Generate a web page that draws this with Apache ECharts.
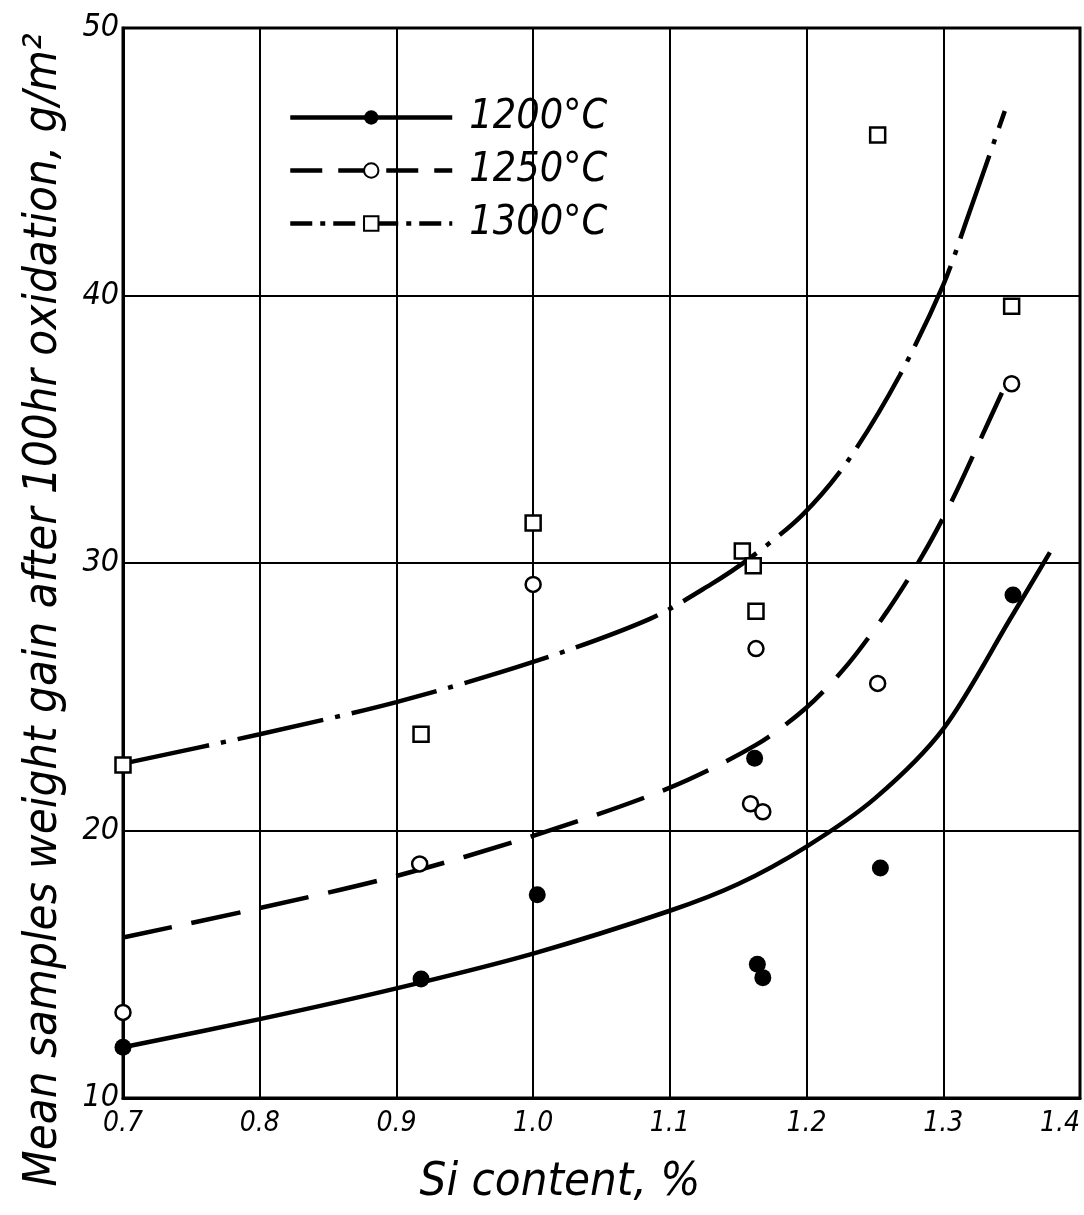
<!DOCTYPE html>
<html>
<head>
<meta charset="utf-8">
<script src="https://cdn.jsdelivr.net/npm/echarts@6/dist/echarts.min.js"></script>
<style>
  html, body { margin: 0; padding: 0; background: #fff; }
  #chart { width: 1084px; height: 1215px; }
</style>
</head>
<body>
<div id="chart"></div>
<script>
// measured points (Si %, g/m2)
var pts1200 = [[0.70, 11.9], [0.918, 14.45], [1.003, 17.6], [1.162, 22.7], [1.164, 15.0], [1.168, 14.5], [1.254, 18.6], [1.351, 28.8]];
var pts1250 = [[0.70, 13.2], [0.917, 18.75], [1.0, 29.2], [1.163, 26.8], [1.159, 21.0], [1.168, 20.7], [1.252, 25.5], [1.350, 36.7]];
var pts1300 = [[0.70, 22.45], [0.918, 23.6], [1.0, 31.5], [1.153, 30.45], [1.161, 29.9], [1.163, 28.2], [1.252, 46.0], [1.350, 39.6]];

// fitted curves
var curve1200 = [[0.70, 11.9], [0.80, 12.95], [0.90, 14.1], [1.00, 15.4], [1.10, 17.0], [1.15, 18.0], [1.20, 19.4], [1.25, 21.2], [1.30, 23.8], [1.35, 28.0], [1.378, 30.4]];
var curve1250 = [[0.70, 16.0], [0.80, 17.1], [0.90, 18.3], [1.00, 19.8], [1.10, 21.6], [1.163, 23.2], [1.20, 24.6], [1.23, 26.2], [1.259, 28.2], [1.285, 30.3], [1.307, 32.4], [1.327, 34.6], [1.345, 36.6]];
var curve1300 = [[0.70, 22.5], [0.80, 23.6], [0.90, 24.8], [1.00, 26.3], [1.085, 27.9], [1.13, 29.2], [1.159, 30.2], [1.197, 31.8], [1.23, 33.8], [1.268, 37.0], [1.30, 40.4], [1.317, 42.8], [1.345, 46.9]];

var legendNames = ['1200°C', '1250°C', '1300°C'];

var font = '"DejaVu Sans Condensed", "Liberation Sans Narrow", "DejaVu Sans", sans-serif';
var myChart = echarts.init(document.getElementById('chart'), null, { renderer: 'canvas' });

var openSym = { color: '#fff', borderColor: '#000', borderWidth: 2.5, opacity: 1 };
var dash1250 = [50, 20];
var dash1300 = [88, 12, 5, 12];

option = {
    backgroundColor: '#fff',
    animation: false,
    grid: {
        left: 123, top: 28, width: 957, height: 1070,
        outerBoundsMode: 'none', containLabel: false,
        show: true, borderColor: '#000', borderWidth: 3
    },
    legend: {
        orient: 'vertical',
        left: 283, top: 92,
        itemWidth: 162, itemHeight: 18, itemGap: 12,
        lineStyle: { width: 4.5, color: '#000' },
        data: [
            { name: legendNames[0] },
            { name: legendNames[1], lineStyle: { type: [32, 16] } },
            { name: legendNames[2], lineStyle: { type: [22, 8, 5, 8] } }
        ],
        textStyle: { fontFamily: font, fontStyle: 'italic', fontSize: 41, color: '#000', padding: [0, 0, 0, 12] }
    },
    xAxis: {
        type: 'value', min: 0.7, max: 1.4, interval: 0.1,
        axisLine: { show: true, lineStyle: { color: '#000', width: 3 } },
        axisTick: { show: false },
        splitLine: { show: true, lineStyle: { color: '#000', width: 2 } },
        axisLabel: {
            color: '#000', fontFamily: font, fontStyle: 'italic', fontSize: 28, margin: 12,
            alignMaxLabel: 'right',
            formatter: function (v) { return v.toFixed(1); }
        }
    },
    yAxis: {
        type: 'value', min: 10, max: 50, interval: 10,
        axisLine: { show: true, lineStyle: { color: '#000', width: 3 } },
        axisTick: { show: false },
        splitLine: { show: true, lineStyle: { color: '#000', width: 2 } },
        axisLabel: { color: '#000', fontFamily: font, fontStyle: 'italic', fontSize: 32, margin: 4 }
    },
    graphic: [{
        type: 'text', x: 44, y: 610, rotation: Math.PI / 2,
        style: {
            text: 'Mean samples weight gain after 100hr oxidation, g/m²',
            fontFamily: font, fontStyle: 'italic', fontSize: 47, fill: '#000',
            align: 'center', verticalAlign: 'middle'
        }
    }, {
        type: 'text', x: 560, y: 1183,
        style: {
            text: 'Si content, %', fontFamily: font, fontStyle: 'italic', fontSize: 47, fill: '#000',
            align: 'center', verticalAlign: 'middle'
        }
    }],
    series: [{
        name: legendNames[0], type: 'line', data: curve1200, smooth: 0.3,
        showSymbol: false, symbol: 'circle', symbolSize: 16,
        itemStyle: { color: '#000', opacity: 1 },
        lineStyle: { color: '#000', width: 4.5 }, z: 3
    }, {
        name: legendNames[1], type: 'line', data: curve1250, smooth: 0.3,
        showSymbol: false, symbol: 'circle', symbolSize: 15,
        itemStyle: openSym,
        lineStyle: { color: '#000', width: 4.5, type: dash1250 }, z: 3
    }, {
        name: legendNames[2], type: 'line', data: curve1300, smooth: 0.3,
        showSymbol: false, symbol: 'rect', symbolSize: 15,
        itemStyle: openSym,
        lineStyle: { color: '#000', width: 4.5, type: dash1300 }, z: 3
    }, {
        name: 'p1200', type: 'scatter', data: pts1200, symbol: 'circle', symbolSize: 17,
        itemStyle: { color: '#000', opacity: 1 }, z: 4
    }, {
        name: 'p1250', type: 'scatter', data: pts1250, symbol: 'circle', symbolSize: 15,
        itemStyle: openSym, z: 4
    }, {
        name: 'p1300', type: 'scatter', data: pts1300, symbol: 'rect', symbolSize: 15,
        itemStyle: openSym, z: 4
    }]
};
if (option && typeof option === "object") {
    myChart.setOption(option, true);
}
</script>
</body>
</html>
